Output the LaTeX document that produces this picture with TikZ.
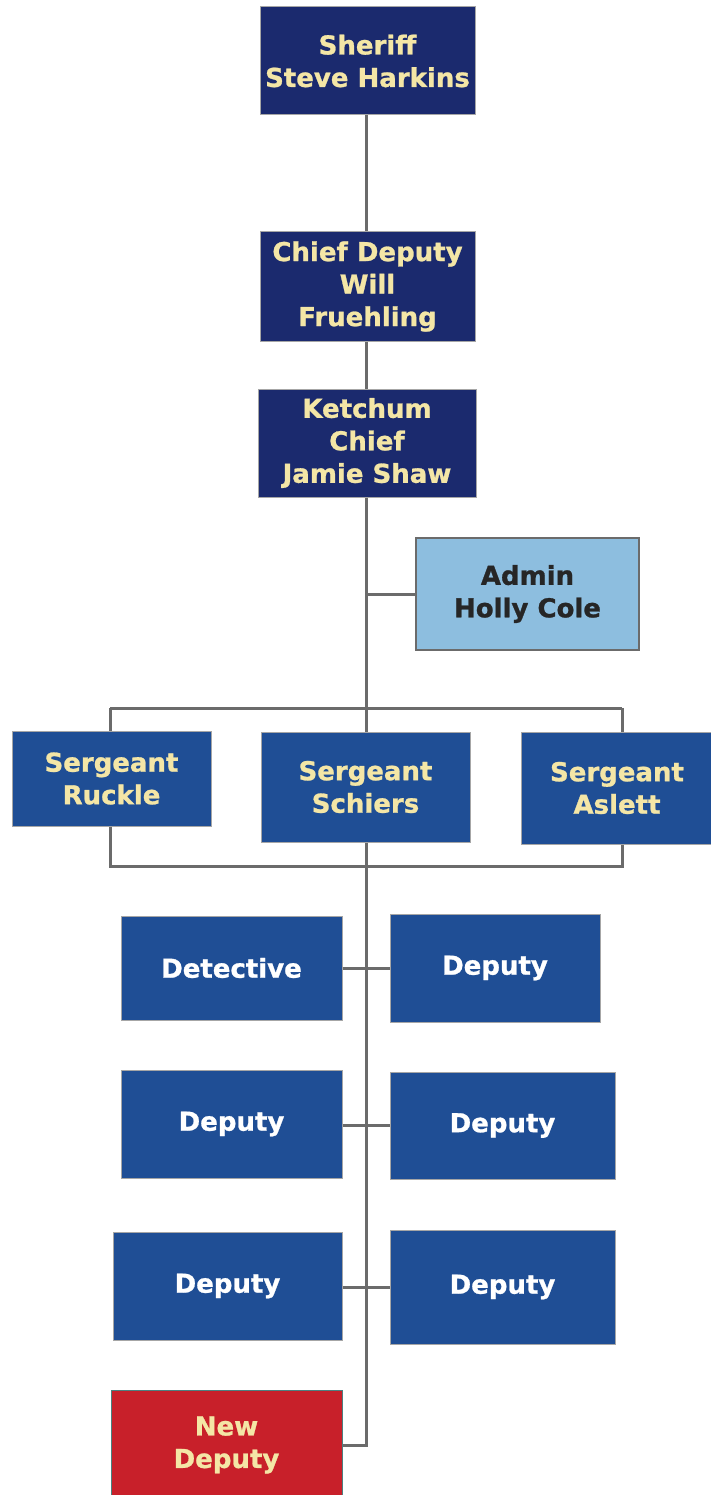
\documentclass[tikz,border=0pt]{standalone}
\usepackage{fontspec}
\setmainfont{DejaVu Sans}[BoldFeatures={FakeBold=1}]
\definecolor{navy}{HTML}{1B2A6E}
\definecolor{midblue}{HTML}{1F4E95}
\definecolor{lightblue}{HTML}{8DBEDF}
\definecolor{redbox}{HTML}{C8202A}
\definecolor{cream}{HTML}{F4E6A6}
\definecolor{linegray}{HTML}{6B6B6B}
\begin{document}
\begin{tikzpicture}[x=1pt,y=-1pt,
  box/.style={draw=gray!70, line width=1pt, align=center, inner sep=0pt,
    font=\bfseries\fontsize{26}{32.5}\selectfont},
  topbox/.style={box, fill=navy, text=cream},
  sgtbox/.style={box, fill=midblue, text=cream},
  depbox/.style={box, fill=midblue, text=white},
  adminbox/.style={box, draw=linegray, line width=1.5pt, fill=lightblue, text=black!85},
  newbox/.style={box, draw=gray!60!teal, fill=redbox, text=cream},
  conn/.style={draw=linegray, line width=3pt}]
\useasboundingbox (0,0) rectangle (711,1495);
\clip (0,0) rectangle (711,1495);

\coordinate (spine) at (366,0);
\coordinate (topbar) at (366,708);
\coordinate (botbar) at (366,866);
\coordinate (adminj) at (366,594);
\coordinate (rowa) at (366,968);
\coordinate (rowb) at (366,1125);
\coordinate (rowc) at (366,1287);
\coordinate (rowd) at (366,1445);
\coordinate (lbar) at (110,708);
\coordinate (rbar) at (622,708);
\coordinate (lbarb) at (110,866);
\coordinate (rbarb) at (622,866);

\node[topbox, minimum width=215, minimum height=108] (sheriff) at (367.5,61) {Sheriff\\Steve Harkins};
\node[topbox, minimum width=215, minimum height=109] (chief) at (367.5,286.5) {Chief Deputy\\Will\\Fruehling};
\node[topbox, minimum width=218, minimum height=108] (ketchum) at (367,443) {Ketchum\\Chief\\Jamie Shaw};
\node[adminbox, minimum width=223, minimum height=112] (admin) at (527.5,594) {Admin\\Holly Cole};
\node[sgtbox, minimum width=199, minimum height=95] (ruckle) at (111.5,778.5) {Sergeant\\Ruckle};
\node[sgtbox, minimum width=209, minimum height=110] (schiers) at (365.5,787) {Sergeant\\Schiers};
\node[sgtbox, minimum width=192, minimum height=112] (aslett) at (617,788) {Sergeant\\Aslett};
\node[depbox, minimum width=221, minimum height=104] (det) at (231.5,968) {Detective};
\node[depbox, minimum width=210, minimum height=108] (dep1) at (495,968) {Deputy};
\node[depbox, minimum width=221, minimum height=108] (dep2) at (231.5,1124) {Deputy};
\node[depbox, minimum width=225, minimum height=107] (dep3) at (502.5,1125.5) {Deputy};
\node[depbox, minimum width=229, minimum height=108] (dep4) at (227.5,1286) {Deputy};
\node[depbox, minimum width=225, minimum height=114] (dep5) at (502.5,1287) {Deputy};
\node[newbox, minimum width=231, minimum height=110] (newdep) at (226.5,1445) {New\\Deputy};

\draw[conn] (sheriff.south -| spine) -- (chief.north -| spine);
\draw[conn] (chief.south -| spine) -- (ketchum.north -| spine);
\draw[conn] (ketchum.south -| spine) -- (topbar);
\draw[conn] (adminj) -- (admin.west);
\draw[conn] (lbar) -- (rbar);
\draw[conn] (lbar) -- (ruckle.north -| lbar);
\draw[conn] (rbar) -- (aslett.north -| rbar);
\draw[conn] (topbar) -- (schiers.north -| topbar);
\draw[conn] (ruckle.south -| lbarb) -- (lbarb) -- (rbarb) -- (aslett.south -| rbarb);
\draw[conn] (schiers.south -| botbar) -- (rowd) -- (newdep.east |- rowd);
\draw[conn] (det.east |- rowa) -- (dep1.west |- rowa);
\draw[conn] (dep2.east |- rowb) -- (dep3.west |- rowb);
\draw[conn] (dep4.east |- rowc) -- (dep5.west |- rowc);
\end{tikzpicture}
\end{document}
